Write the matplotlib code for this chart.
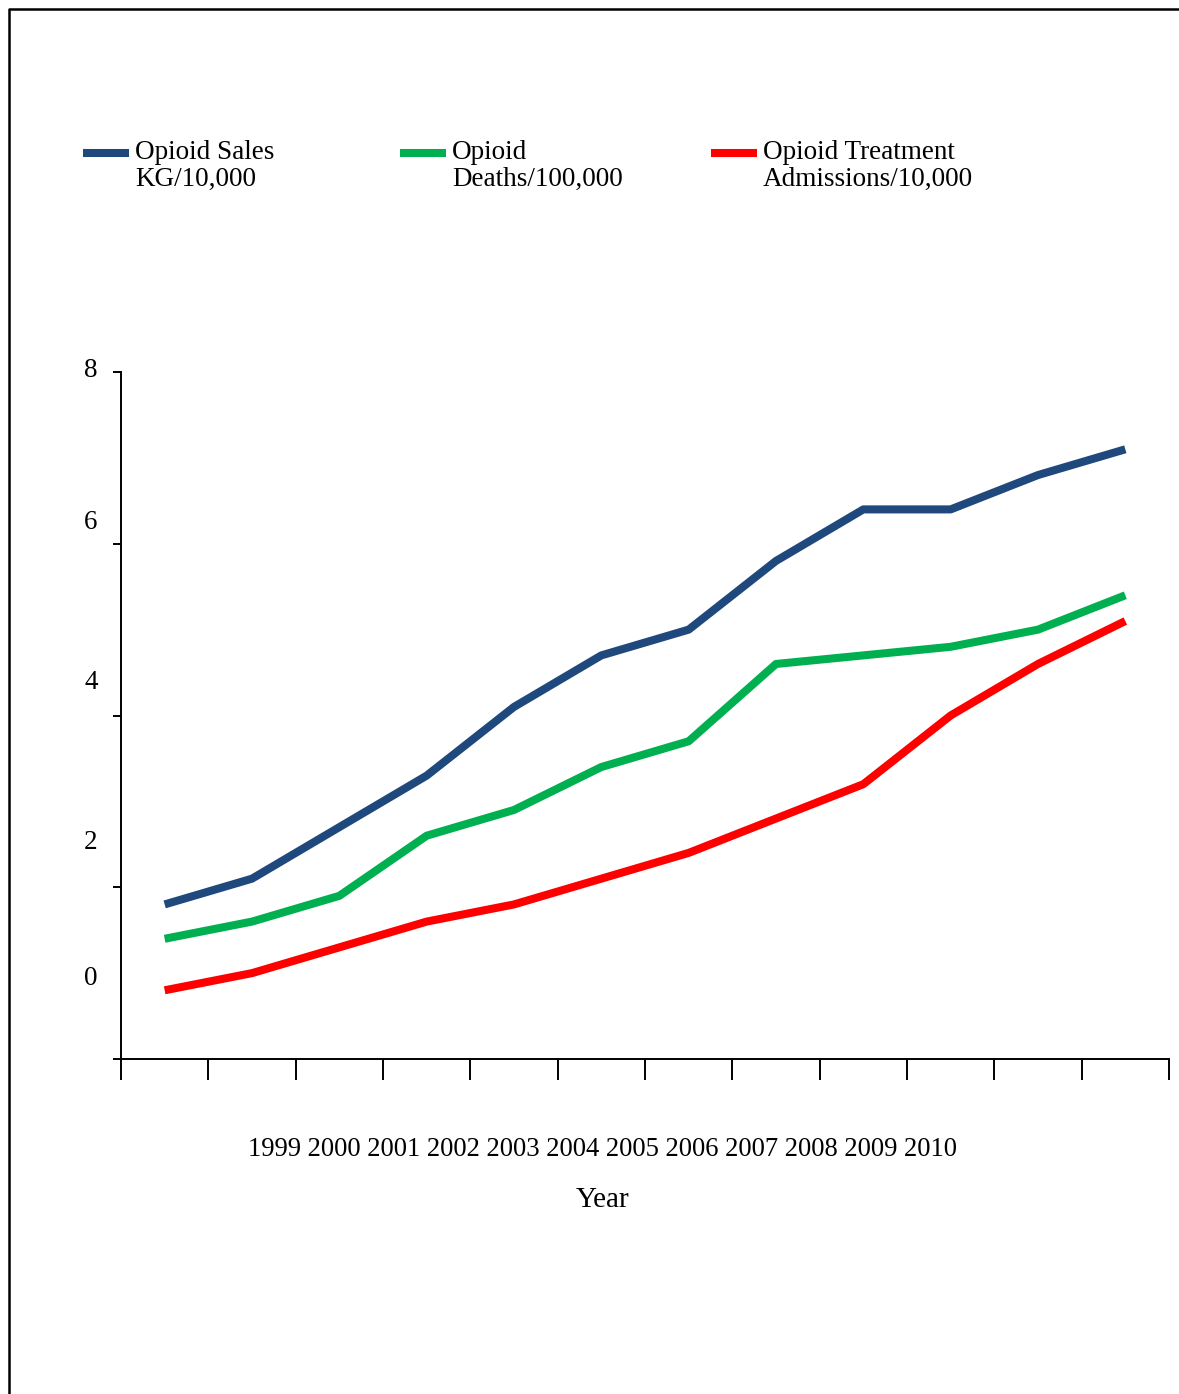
import numpy as np
import matplotlib
matplotlib.use("Agg")
import matplotlib.pyplot as plt
from matplotlib.lines import Line2D

plt.rcParams['font.family'] = ['Liberation Serif', 'DejaVu Serif']

years = ['1999', '2000', '2001', '2002', '2003', '2004', '2005', '2006', '2007', '2008', '2009', '2010']
sales = [1.8, 2.1, 2.7, 3.3, 4.1, 4.7, 5.0, 5.8, 6.4, 6.4, 6.8, 7.1]
deaths = [1.4, 1.6, 1.9, 2.6, 2.9, 3.4, 3.7, 4.6, 4.7, 4.8, 5.0, 5.4]
admissions = [0.8, 1.0, 1.3, 1.6, 1.8, 2.1, 2.4, 2.8, 3.2, 4.0, 4.6, 5.1]
labels = ['Opioid Sales\nKG/10,000', 'Opioid\nDeaths/100,000', 'Opioid Treatment\nAdmissions/10,000']
colors = ['#1F497D', '#00B050', '#FF0000']
ytick_vals = [0, 2, 4, 6, 8]
# the source draws its y labels a bit off the ticks
ylabel_pos = [0.94, 2.52, 4.38, 6.25, 8.02]

W, H = 1179, 1394
fig = plt.figure(figsize=(W/100, H/100), dpi=100)
ax = fig.add_axes([121/W, 1-1059/H, 1048/W, 687/H])

x = np.arange(len(years)) + 0.5
for vals, c in zip([sales, deaths, admissions], colors):
    ax.plot(x, vals, color=c, lw=5.8, solid_capstyle='butt')

ax.set_xlim(0, len(years))
ax.set_ylim(0, 8)
ax.set_xticks(np.arange(len(years)+1))
ax.set_xticklabels([])
ax.set_yticks(ytick_vals)
ax.set_yticklabels([])
ax.tick_params(axis='x', direction='out', length=15, width=1.4)
ax.tick_params(axis='y', direction='out', length=6, width=1.4)
for s in ['top', 'right']:
    ax.spines[s].set_visible(False)
for s in ['left', 'bottom']:
    ax.spines[s].set_linewidth(1.4)

for v, p in zip(ytick_vals, ylabel_pos):
    ax.text(-0.0286, p, str(v), transform=ax.get_yaxis_transform(),
            ha='center', va='center', fontsize=19.5)

# year labels squeezed together under the axis, as in the source
fig.text(603/W, 1-1149/H, ' '.join(years), ha='center', va='center', fontsize=19.2)
fig.text(603/W, 1-1200/H, 'Year', ha='center', va='center', fontsize=21)

# legend drawn by hand across the top
leg_x = [83, 400, 711]
for lx, lab, c in zip(leg_x, labels, colors):
    fig.add_artist(Line2D([lx/W, (lx+46)/W], [1-153/H, 1-153/H], color=c, lw=5.8,
                          solid_capstyle='butt'))
    fig.text((lx+52)/W, 1-140/H, lab, ha='left', va='top', fontsize=19.5, linespacing=1.08)

# frame around the page
fig.add_artist(Line2D([8.5/W, 8.5/W, 1.0], [0.0, 1-9/H, 1-9/H], color='black', lw=1.8))

fig.savefig('out.png', dpi=100)
